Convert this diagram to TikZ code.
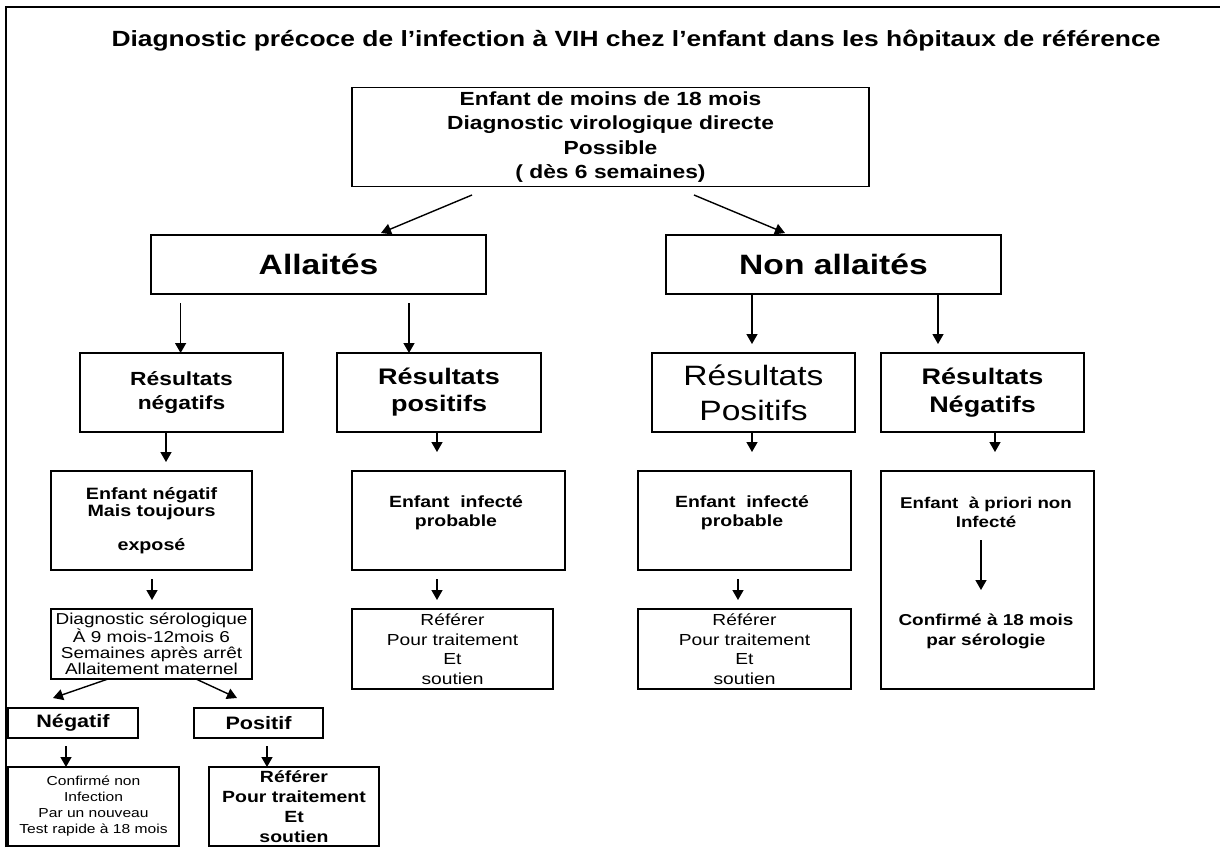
\documentclass[tikz,border=0pt]{standalone}
\usepackage{fontspec}
\setmainfont{Liberation Sans}[FakeStretch=1.2]
\usetikzlibrary{arrows.meta}
\newcommand\fsz[2]{\fontsize{#1}{#2}\selectfont}
\begin{document}
\begin{tikzpicture}[x=1pt,y=-1pt,
  box/.style={draw,line width=1.4pt,inner sep=0pt,align=center},
  lbl/.style={inner sep=0pt,align=center},
  arr/.style={line width=1.4pt,-{Triangle[length=10pt,width=11pt]}}]
\useasboundingbox (0,0) rectangle (1220,847);
\fill[white] (0,0) rectangle (1220,847);
% frame
\draw[line width=2pt] (6,847) -- (6,7) -- (1220,7);
% title
\node[lbl,font=\bfseries\fsz{22}{26}] (title) at (636,41) {Diagnostic précoce de l’infection à VIH chez l’enfant dans les hôpitaux de référence};
% top box
\node[box,minimum width=517,minimum height=99,font=\bfseries\fsz{19}{24.5}] (top) at (610.5,137) {Enfant de moins de 18 mois\\Diagnostic virologique directe\\Possible\\( dès 6 semaines)};
% level 1
\node[box,minimum width=335,minimum height=59,font=\bfseries\fsz{28}{32}] (all) at (318.5,264.5) {Allaités};
\node[box,minimum width=335,minimum height=59,font=\bfseries\fsz{28}{32}] (non) at (833.5,264.5) {Non allaités};
\coordinate (a1s) at (472,195); \coordinate (a1e) at (381,233);
\coordinate (a2s) at (694,195); \coordinate (a2e) at (785,233);
\draw[arr] (a1s) -- (a1e);
\draw[arr] (a2s) -- (a2e);
% level 2
\node[box,minimum width=203,minimum height=79,font=\bfseries\fsz{19}{24}] (rn) at (181.5,392.5) {Résultats\\négatifs};
\node[box,minimum width=204,minimum height=79,font=\bfseries\fsz{22.5}{27}] (rp) at (439,392.5) {Résultats\\positifs};
\node[box,minimum width=203,minimum height=79,font=\fsz{28}{35}] (rp2) at (753.5,392.5) {Résultats\\Positifs};
\node[box,minimum width=203,minimum height=79,font=\bfseries\fsz{22.5}{28}] (rn2) at (982.5,392.5) {Résultats\\Négatifs};
\coordinate (b1s) at (180.6,303); \coordinate (b1e) at (180.6,353);
\coordinate (b2s) at (409,303); \coordinate (b2e) at (409,353);
\coordinate (b3s) at (752,294); \coordinate (b3e) at (752,344);
\coordinate (b4s) at (938,294); \coordinate (b4e) at (938,344);
\draw[arr] (b1s) -- (b1e);
\draw[arr] (b2s) -- (b2e);
\draw[arr] (b3s) -- (b3e);
\draw[arr] (b4s) -- (b4e);
% level 3
\coordinate (c1s) at (166,432); \coordinate (c1e) at (166,462);
\coordinate (c2s) at (437,432); \coordinate (c2e) at (437,452);
\coordinate (c3s) at (752,432); \coordinate (c3e) at (752,452);
\coordinate (c4s) at (995,432); \coordinate (c4e) at (995,452);
\draw[arr] (c1s) -- (c1e);
\draw[arr] (c2s) -- (c2e);
\draw[arr] (c3s) -- (c3e);
\draw[arr] (c4s) -- (c4e);
\node[box,minimum width=201,minimum height=99,font=\bfseries\fsz{16.4}{17}] (en) at (151.5,520.5) {Enfant négatif\\Mais toujours\\\mbox{}\\exposé};
\node[box,minimum width=213,minimum height=99] (ei1) at (458.5,520.5) {};
\node[lbl,font=\bfseries\fsz{16.2}{19}] (ei1t) at (456,512.5) {Enfant~ infecté\\probable};
\node[box,minimum width=213,minimum height=99] (ei2) at (744.5,520.5) {};
\node[lbl,font=\bfseries\fsz{16.2}{19}] (ei2t) at (742,512.5) {Enfant~ infecté\\probable};
\node[box,minimum width=213,minimum height=218] (tall) at (987.5,580) {};
\node[lbl,font=\bfseries\fsz{15.6}{19}] (tt1) at (986,512.5) {Enfant~ à priori non\\Infecté};
\node[lbl,font=\bfseries\fsz{15.8}{20}] (tt2) at (986,631) {Confirmé à 18 mois\\par sérologie};
\coordinate (d0s) at (981,540); \coordinate (d0e) at (981,590);
\draw[arr] (d0s) -- (d0e);
% level 4
\coordinate (d1s) at (152,579); \coordinate (d1e) at (152,600);
\coordinate (d2s) at (437,579); \coordinate (d2e) at (437,600);
\coordinate (d3s) at (738,579); \coordinate (d3e) at (738,600);
\draw[arr] (d1s) -- (d1e);
\draw[arr] (d2s) -- (d2e);
\draw[arr] (d3s) -- (d3e);
\node[box,minimum width=201,minimum height=70,font=\fsz{15.8}{15.8}] (diag) at (151.5,644) {Diagnostic sérologique\\À 9 mois-12mois 6\\Semaines après arrêt\\Allaitement maternel};
\node[box,minimum width=201,minimum height=80,font=\fsz{16}{19.5}] (ref1) at (452.5,649) {Référer\\Pour traitement\\Et\\soutien};
\node[box,minimum width=213,minimum height=80,font=\fsz{16}{19.5}] (ref2) at (744.5,649) {Référer\\Pour traitement\\Et\\soutien};
% level 5
\coordinate (e1s) at (108,679); \coordinate (e1e) at (53,698);
\coordinate (e2s) at (196,679); \coordinate (e2e) at (237,698);
\draw[arr] (e1s) -- (e1e);
\draw[arr] (e2s) -- (e2e);
\node[box,minimum width=130,minimum height=30,font=\bfseries\fsz{18}{20}] (neg) at (73,723) {Négatif};
\node[box,minimum width=129,minimum height=30,font=\bfseries\fsz{18}{20}] (pos) at (258.5,723) {Positif};
\coordinate (f1s) at (66,746); \coordinate (f1e) at (66,767);
\coordinate (f2s) at (267,746); \coordinate (f2e) at (267,767);
\draw[arr] (f1s) -- (f1e);
\draw[arr] (f2s) -- (f2e);
\node[box,minimum width=171,minimum height=79,font=\fsz{13}{16}] (conf) at (93.5,806.5) {Confirmé non\\Infection\\Par un nouveau\\Test rapide à 18 mois};
\node[box,minimum width=170,minimum height=79,font=\bfseries\fsz{16.2}{20}] (ref3) at (294,806.5) {Référer\\Pour traitement\\Et\\soutien};
\end{tikzpicture}
\end{document}
